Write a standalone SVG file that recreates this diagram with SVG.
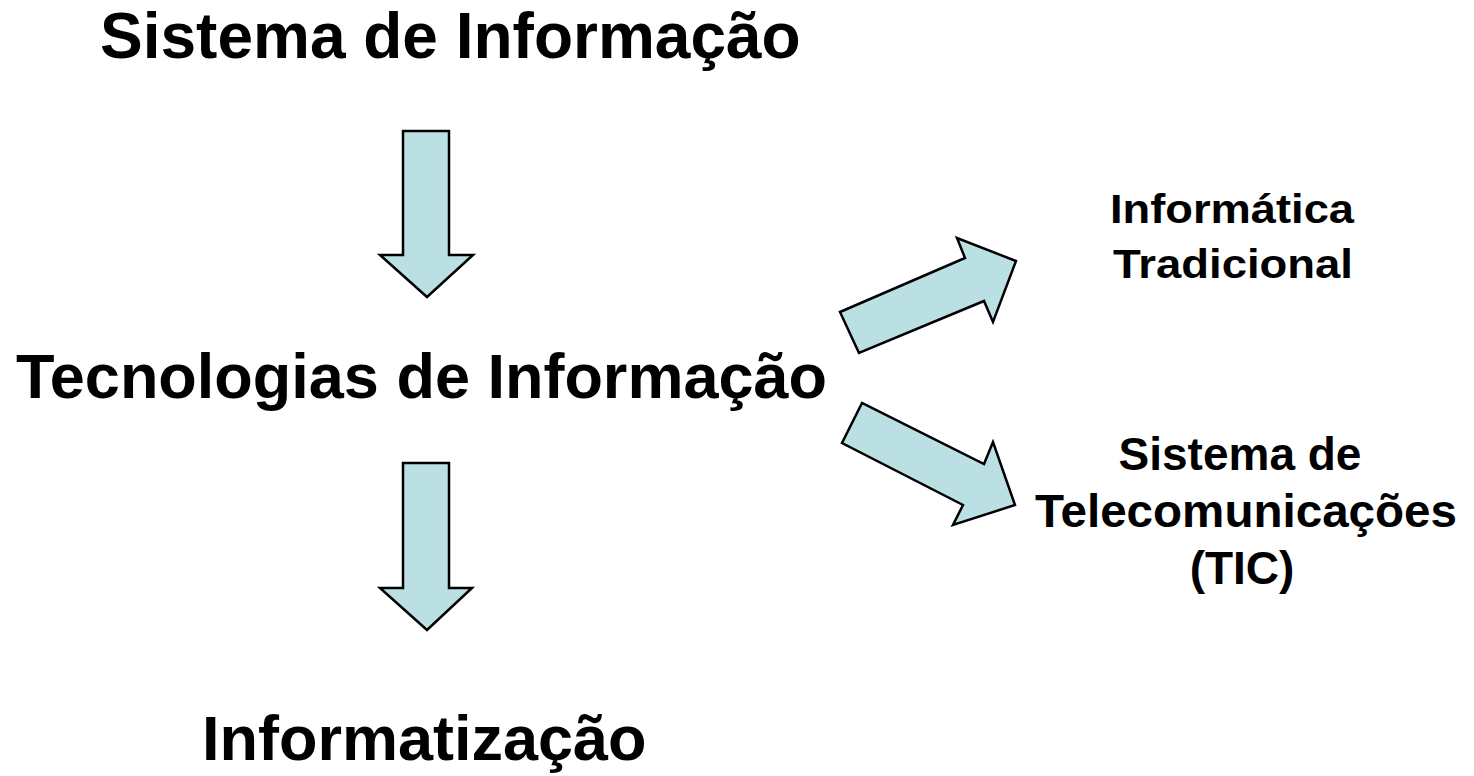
<svg xmlns="http://www.w3.org/2000/svg" width="1474" height="776" viewBox="0 0 1474 776">
<style>
.t{font-family:"Liberation Sans",Arial,sans-serif;font-weight:bold;fill:#000}
.big{font-size:64px}
.big63{font-size:63px}
.sm{font-size:40px;text-anchor:middle}
.md{font-size:46px;text-anchor:middle}
.arr{fill:#BBE0E3;stroke:#000;stroke-width:2.5;stroke-linejoin:miter}
</style>
<rect width="1474" height="776" fill="#fff"/>
<g id="node-sistema"><text class="t big" x="100" y="58">Sistema de Informação</text></g>
<g id="node-tecnologias"><text class="t big63" x="16" y="398">Tecnologias de Informação</text></g>
<g id="node-informatizacao"><text class="t big63" x="202" y="760">Informatização</text></g>
<g id="node-informatica">
<text class="t sm" x="1232" y="223" textLength="244" lengthAdjust="spacingAndGlyphs">Informática</text>
<text class="t sm" x="1233" y="278" textLength="240" lengthAdjust="spacingAndGlyphs">Tradicional</text>
</g>
<g id="node-telecom">
<text class="t md" x="1240" y="470">Sistema de</text>
<text class="t md" x="1246" y="527" textLength="422" lengthAdjust="spacingAndGlyphs">Telecomunicações</text>
<text class="t md" x="1242" y="584">(TIC)</text>
</g>
<g id="connectors">
<polygon class="arr" points="403,131 449,131 449,255 473,255 427,297 380,255 403,255"/>
<polygon class="arr" points="403,463 449,463 449,588 472,588 427,630 380,588 403,588"/>
<polygon class="arr" points="859,353 840,312 965,258 957,238 1016,261 993,322 984,301"/>
<polygon class="arr" points="862,403 842,443 963,505 953,525 1015,505 993,442 984,464"/>
</g>
</svg>
